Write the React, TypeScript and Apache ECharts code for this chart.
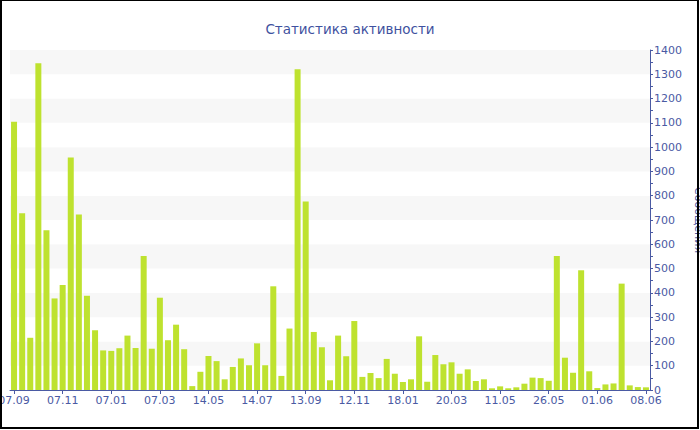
import React, { useEffect, useRef } from "react";
import * as echarts from "echarts";

const tickLabels = [
  "07.09", "07.11", "07.01", "07.03", "14.05", "14.07", "13.09",
  "12.11", "18.01", "20.03", "11.05", "26.05", "01.06", "08.06",
];

const messages = [
  1105, 728, 215, 1345, 658, 377, 432, 957, 723, 388,
  246, 163, 161, 172, 224, 173, 552, 170, 380, 205,
  269, 168, 16, 75, 140, 119, 44, 95, 130, 102,
  192, 102, 427, 58, 253, 1321, 776, 239, 176, 40,
  224, 139, 284, 54, 70, 49, 128, 67, 33, 44,
  221, 34, 144, 106, 114, 67, 85, 37, 44, 7,
  15, 7, 11, 26, 51, 49, 38, 552, 133, 71,
  493, 77, 8, 23, 27, 438, 19, 12, 11,
];

const categories = messages.map((_, i) => String(i));
const LABEL_STEP = 6;

const TITLE = "Статистика активности";
const Y_NAME = "Сообщения";

const BLUE = "#4a5aa3";
const FONT = "DejaVu Sans, Verdana, sans-serif";

export default function App() {
  const ref = useRef<HTMLDivElement>(null);

  useEffect(() => {
    document.body.style.margin = "0";
    document.body.style.overflow = "hidden";
    if (!ref.current) return;
    const chart = echarts.init(ref.current, null, { renderer: "svg" });
    chart.setOption({
      animation: false,
      textStyle: { fontFamily: FONT },
      title: {
        text: TITLE,
        left: "center",
        top: 17,
        textStyle: { color: "#3f52a0", fontSize: 13.5, fontWeight: "normal", fontFamily: FONT },
      },
      grid: { left: 10, right: 50, top: 50, bottom: 40, containLabel: false, outerBoundsMode: "none" },
      xAxis: {
        type: "category",
        data: categories,
        boundaryGap: true,
        axisLine: { show: true, lineStyle: { color: BLUE, width: 1 } },
        axisTick: { show: true, alignWithLabel: true, interval: LABEL_STEP - 1, length: 4, lineStyle: { color: BLUE } },
        axisLabel: {
          interval: LABEL_STEP - 1,
          color: BLUE,
          fontSize: 11,
          fontFamily: FONT,
          margin: 5,
          hideOverlap: false,
          formatter: (_v: string, idx: number) => tickLabels[Math.floor(idx / LABEL_STEP)] ?? "",
        },
        splitLine: { show: false },
      },
      yAxis: {
        type: "value",
        position: "right",
        min: 0,
        max: 1400,
        interval: 100,
        name: Y_NAME,
        nameLocation: "middle",
        nameRotate: -90,
        nameGap: 39,
        nameTextStyle: { color: BLUE, fontSize: 11, fontFamily: FONT },
        axisLine: { show: true, lineStyle: { color: BLUE, width: 1 } },
        axisTick: { show: true, length: 3, lineStyle: { color: BLUE } },
        minorTick: { show: true, splitNumber: 2, length: 3, lineStyle: { color: BLUE } },
        axisLabel: {
          color: BLUE,
          fontSize: 11,
          fontFamily: FONT,
          margin: 4,
          formatter: (v: number) => String(v),
        },
        splitLine: { show: false },
        splitArea: { show: true, areaStyle: { color: ["#ffffff", "#f7f7f7"] } },
      },
      series: [
        {
          type: "bar",
          data: messages,
          barWidth: 6,
          itemStyle: { color: "#bee22f" },
        },
      ],
    });
    return () => chart.dispose();
  }, []);

  return (
    <div style={{ position: "relative", width: 700, height: 430 }}>
      <div ref={ref} style={{ position: "absolute", left: 0, top: 0, width: 700, height: 430 }} />
      <div
        style={{
          position: "absolute",
          left: 0,
          top: 0,
          width: 699,
          height: 429,
          boxSizing: "border-box",
          borderTop: "1px solid #000",
          borderLeft: "2px solid #000",
          borderRight: "2px solid #000",
          borderBottom: "2px solid #000",
          pointerEvents: "none",
        }}
      />
    </div>
  );
}
